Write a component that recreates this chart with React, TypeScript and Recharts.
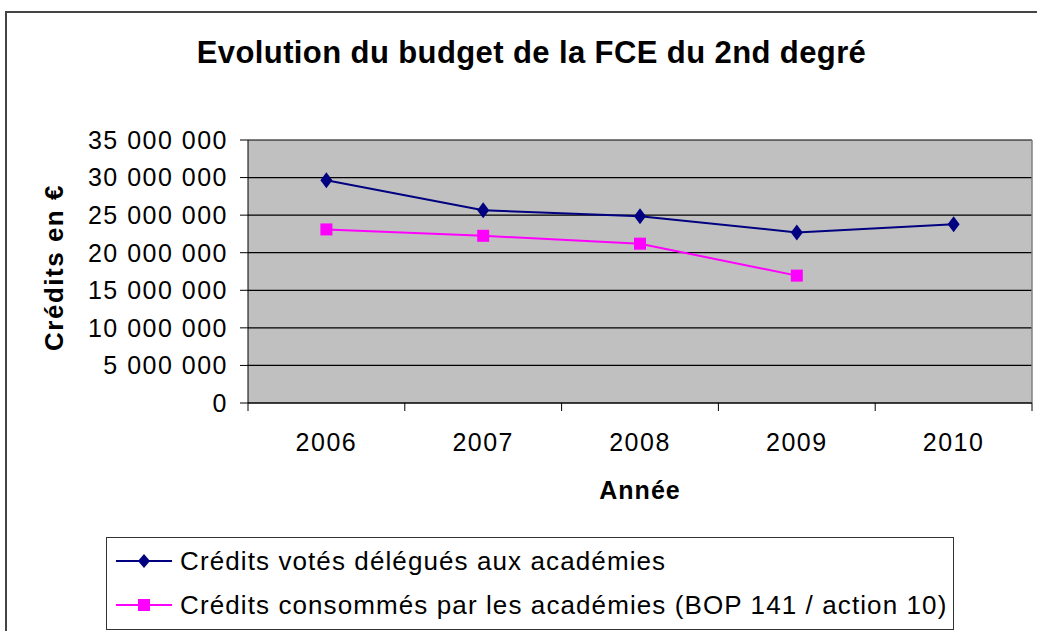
import { LineChart, Line, XAxis, YAxis, CartesianGrid, ReferenceLine } from 'recharts';

const years = [2006, 2007, 2008, 2009, 2010];
const votes = [29650000, 25650000, 24850000, 22700000, 23780000];
const consommes: (number | null)[] = [23100000, 22250000, 21200000, 16950000, null];
const yTicks = [0, 5000000, 10000000, 15000000, 20000000, 25000000, 30000000, 35000000];
// limites entre les années (traits de graduation) + années (libellés)
const bounds = [2005.5, 2006.5, 2007.5, 2008.5, 2009.5, 2010.5];
const xTicks = [...bounds, ...years].sort((a, b) => a - b);

const serieVotes = 'Crédits votés délégués aux académies';
const serieConso = 'Crédits consommés par les académies (BOP 141 / action 10)';

const data = years.map((year, i) => ({ year, votes: votes[i], consommes: consommes[i] }));

const font = '"Liberation Sans", Arial, sans-serif';
const fmt = (v: number) => String(v).replace(/\B(?=(\d{3})+(?!\d))/g, ' ');

const Diamond = (props: any) => {
  const { cx, cy } = props;
  if (cx == null || cy == null) return <g />;
  return <polygon points={`${cx},${cy - 8} ${cx + 6},${cy} ${cx},${cy + 8} ${cx - 6},${cy}`} fill="#000080" />;
};

const Square = (props: any) => {
  const { cx, cy } = props;
  if (cx == null || cy == null) return <g />;
  return <rect x={cx - 6} y={cy - 6} width={12} height={12} fill="#FF00FF" />;
};

const YearTick = (props: any) => {
  const { x, y, payload } = props;
  const v = payload.value;
  if (!Number.isInteger(v)) {
    return <line x1={x} y1={y} x2={x} y2={y + 8} stroke="#000" strokeWidth={1} />;
  }
  return (
    <text x={x} y={y + 48} textAnchor="middle" fontSize={25} fontFamily={font} letterSpacing={1.5} fill="#000">
      {v}
    </text>
  );
};

export default function App() {
  return (
    <div style={{ position: 'absolute', left: 0, top: 0, width: 1037, height: 631, overflow: 'hidden', background: '#fff', fontFamily: font }}>
      <div style={{ position: 'absolute', left: 5, top: 11, width: 1100, height: 700, border: '2px solid #444' }} />
      <div style={{ position: 'absolute', left: 0, top: 35, width: 1063, textAlign: 'center', fontSize: 31, fontWeight: 'bold', letterSpacing: 0.4 }}>
        Evolution du budget de la FCE du 2nd degré
      </div>
      <div style={{ position: 'absolute', left: 54, top: 268, width: 0, height: 0 }}>
        <div style={{ position: 'absolute', left: -150, top: -16, width: 300, textAlign: 'center', fontSize: 26, fontWeight: 'bold', letterSpacing: 1.5, transform: 'rotate(-90deg)', whiteSpace: 'nowrap' }}>
          Crédits en €
        </div>
      </div>
      <div style={{ position: 'absolute', left: 540, top: 476, width: 200, textAlign: 'center', fontSize: 25, fontWeight: 'bold', letterSpacing: 1 }}>
        Année
      </div>
      <div style={{ position: 'absolute', left: 0, top: 0 }}>
        <LineChart width={1037} height={631} data={data} margin={{ top: 140, right: 5, bottom: 168, left: 88 }}>
          <CartesianGrid horizontal vertical={false} stroke="#000" fill="#C0C0C0" strokeWidth={1.2} />
          <YAxis
            domain={[0, 35000000]}
            ticks={yTicks}
            width={160}
            tickFormatter={fmt}
            stroke="#000"
            tickSize={8}
            tickMargin={12}
            interval={0}
            tick={{ fontSize: 25, fill: '#000', fontFamily: font, letterSpacing: 1.5 }}
          />
          <XAxis
            dataKey="year"
            type="number"
            domain={[2005.5, 2010.5]}
            ticks={xTicks}
            interval={0}
            tickLine={false}
            tickSize={0}
            tickMargin={0}
            height={60}
            stroke="#000"
            tick={<YearTick />}
          />
          <ReferenceLine x={2010.5} stroke="#808080" strokeWidth={1.5} />
          <Line dataKey="votes" name={serieVotes} stroke="#000080" strokeWidth={2} dot={<Diamond />} isAnimationActive={false} />
          <Line dataKey="consommes" name={serieConso} stroke="#FF00FF" strokeWidth={2} dot={<Square />} isAnimationActive={false} />
        </LineChart>
      </div>
      <div style={{ position: 'absolute', left: 106, top: 537, width: 846, height: 91, border: '1.5px solid #333', fontSize: 26, letterSpacing: 1.1 }}>
        {[
          { name: serieVotes, color: '#000080', shape: 'diamond' },
          { name: serieConso, color: '#FF00FF', shape: 'square' },
        ].map((s, i) => (
          <div key={s.name} style={{ position: 'absolute', left: 9, top: 8 + i * 44, height: 30, display: 'flex', alignItems: 'center', whiteSpace: 'nowrap' }}>
            <svg width={56} height={20} style={{ marginRight: 8 }}>
              <line x1={0} y1={10} x2={56} y2={10} stroke={s.color} strokeWidth={2} />
              {s.shape === 'diamond' ? (
                <polygon points="28,3 34,10 28,17 22,10" fill={s.color} />
              ) : (
                <rect x={22} y={4} width={12} height={12} fill={s.color} />
              )}
            </svg>
            <span>{s.name}</span>
          </div>
        ))}
      </div>
    </div>
  );
}
